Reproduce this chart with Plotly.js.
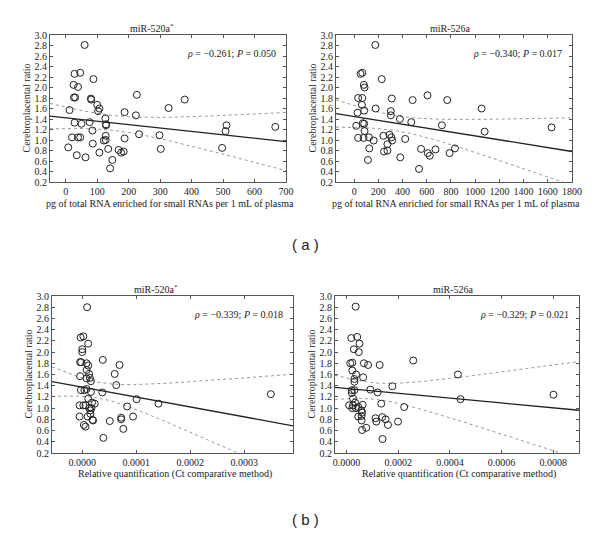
<!DOCTYPE html>
<html>
<head>
<meta charset="utf-8">
<script src="https://cdn.plot.ly/plotly-3.0.1.min.js"></script>
<style>body{margin:0;background:#fff;} #chart{width:600px;height:533px;}</style>
</head>
<body>
<div id="chart"></div>
<script>
// ---- Data ----
// Panel (a) left: miR-520a*, pg total RNA per 1 mL plasma
const a1_x = [60,28,46,25,39,88,26,30,80,81,12,100,107,103,126,128,128,76,28,50,85,20,39,46,127,127,121,86,8,135,107,35,63,148,141,168,176,184,187,187,226,223,233,298,302,327,378,497,511,508,666];
const a1_y = [2.81,2.26,2.28,2.05,2.01,2.16,1.81,1.81,1.79,1.77,1.57,1.67,1.60,1.55,1.41,1.30,1.28,1.34,1.33,1.31,1.18,1.05,1.05,1.05,1.08,1.00,0.99,0.93,0.86,0.83,0.76,0.71,0.67,0.62,0.46,0.81,0.76,0.78,1.03,1.53,1.86,1.47,1.11,1.09,0.83,1.61,1.77,0.85,1.28,1.17,1.25];
// Panel (a) right: miR-526a
const a2_x = [175,53,67,80,86,228,33,67,64,311,483,606,769,28,83,178,303,303,378,472,725,1053,1078,1631,17,72,83,86,33,78,122,161,242,292,308,314,275,125,247,275,114,381,422,536,553,608,625,672,789,833];
const a2_y = [2.81,2.26,2.28,2.05,2.00,2.16,1.80,1.80,1.67,1.79,1.76,1.85,1.76,1.52,1.56,1.60,1.55,1.47,1.40,1.34,1.28,1.60,1.16,1.24,1.27,1.32,1.31,1.17,1.04,1.04,1.05,0.99,1.08,1.10,1.05,0.99,0.92,0.84,0.78,0.80,0.62,0.67,1.02,0.45,0.83,0.75,0.70,0.82,0.75,0.84];
// Panel (b) left: miR-520a*, relative quantification
const b1_x = [0.09e-4,-0.03e-4,0.02e-4,0.11e-4,0.00e-4,0.00e-4,-0.04e-4,-0.02e-4,0.08e-4,0.11e-4,0.38e-4,0.69e-4,0.08e-4,0.125e-4,0.60e-4,-0.04e-4,0.14e-4,0.16e-4,0.08e-4,0.63e-4,-0.025e-4,0.04e-4,0.08e-4,0.16e-4,0.37e-4,0.11e-4,1.006e-4,1.41e-4,-0.05e-4,0.02e-4,0.06e-4,0.23e-4,0.13e-4,0.17e-4,0.15e-4,0.83e-4,-0.05e-4,0.10e-4,0.15e-4,0.19e-4,0.20e-4,0.51e-4,0.72e-4,0.72e-4,0.94e-4,0.76e-4,0.03e-4,0.06e-4,0.39e-4,3.49e-4,0.18e-4];
const b1_y = [2.80,2.26,2.28,2.15,2.05,2.00,1.82,1.82,1.80,1.76,1.86,1.77,1.68,1.61,1.61,1.57,1.54,1.48,1.53,1.41,1.32,1.32,1.34,1.29,1.28,1.17,1.16,1.08,1.05,1.05,1.05,1.08,1.00,1.00,0.96,1.03,0.85,0.85,0.90,0.79,0.78,0.77,0.83,0.80,0.85,0.63,0.70,0.67,0.47,1.25,1.10];
// Panel (b) right: miR-526a, relative quantification
const b2_x = [0.35e-4,0.18e-4,0.41e-4,0.50e-4,0.28e-4,0.47e-4,0.14e-4,0.22e-4,0.67e-4,0.83e-4,1.28e-4,2.58e-4,0.22e-4,0.37e-4,0.64e-4,0.30e-4,0.30e-4,1.77e-4,0.92e-4,0.20e-4,0.30e-4,1.20e-4,0.20e-4,0.25e-4,1.34e-4,0.10e-4,0.25e-4,0.62e-4,2.23e-4,0.36e-4,0.57e-4,0.33e-4,0.60e-4,0.45e-4,0.58e-4,1.12e-4,1.38e-4,1.51e-4,1.15e-4,1.60e-4,1.99e-4,0.58e-4,0.76e-4,0.60e-4,1.39e-4,4.31e-4,4.41e-4,8.01e-4,0.45e-4,0.22e-4];
const b2_y = [2.81,2.25,2.27,2.15,2.05,2.00,1.80,1.81,1.80,1.77,1.77,1.85,1.67,1.60,1.55,1.52,1.47,1.39,1.33,1.32,1.32,1.28,1.27,1.17,1.08,1.05,1.05,1.06,1.02,1.00,0.96,1.10,0.92,0.85,0.86,0.82,0.84,0.80,0.76,0.70,0.76,0.78,0.65,0.61,0.45,1.60,1.16,1.24,1.02,1.00];

const titles = ["miR-520a<sup>*</sup>","miR-526a","miR-520a<sup>*</sup>","miR-526a"];
const statTexts = ["<i>ρ</i> = −0.261; <i>P</i> = 0.050","<i>ρ</i> = −0.340; <i>P</i> = 0.017","<i>ρ</i> = −0.339; <i>P</i> = 0.018","<i>ρ</i> = −0.329; <i>P</i> = 0.021"];
const xTitles = ["pg of total RNA enriched for small RNAs per 1 mL of plasma","pg of total RNA enriched for small RNAs per 1 mL of plasma","Relative quantification (Ct comparative method)","Relative quantification (Ct comparative method)"];
const yTitle = "Cerebroplacental ratio";
const panelLabels = ["( a )","( b )"];

// ---- Layout geometry (pixels) ----
const W = 600, H = 533;
const boxes = [
  {l:50, r:286, t:35, b:182, xr:[-50,700], dt:100, fmt:"d"},
  {l:336, r:572, t:35, b:182, xr:[-150,1800], dt:200, fmt:"d"},
  {l:52, r:293, t:296, b:453, xr:[-0.000056,0.00039], dt:0.0001, fmt:".4f"},
  {l:335, r:579, t:296, b:453, xr:[-0.000045,0.0009], dt:0.0002, fmt:".4f"}
];
const px = v => v / W, py = v => 1 - v / H;
const serif = '"Liberation Serif", "Times New Roman", Times, serif';
const sans = '"Liberation Sans", Arial, sans-serif';

function fit(xs, ys, xr) {
  const n = xs.length;
  const mx = xs.reduce((a,b)=>a+b,0)/n, my = ys.reduce((a,b)=>a+b,0)/n;
  let sxx=0, sxy=0;
  for (let i=0;i<n;i++){ sxx+=(xs[i]-mx)**2; sxy+=(xs[i]-mx)*(ys[i]-my); }
  const b = sxy/sxx, a = my - b*mx;
  let sse=0; for (let i=0;i<n;i++){ sse += (ys[i]-a-b*xs[i])**2; }
  const s = Math.sqrt(sse/(n-2)), t = 2.01;
  const gx=[], fy=[], lo=[], hi=[];
  for (let k=0;k<=120;k++){
    const x = xr[0] + (xr[1]-xr[0])*k/120;
    const yh = a + b*x;
    const se = s*Math.sqrt(1/n + (x-mx)**2/sxx);
    gx.push(x); fy.push(yh); lo.push(yh - t*se); hi.push(yh + t*se);
  }
  return {gx, fy, lo, hi};
}

const datasets = [[a1_x,a1_y],[a2_x,a2_y],[b1_x,b1_y],[b2_x,b2_y]];
const traces = [];
const layout = {
  width: W, height: H, margin:{l:0,r:0,t:0,b:0},
  paper_bgcolor:"#fff", plot_bgcolor:"#fff", showlegend:false,
  font:{family:serif, size:10, color:"#222"},
  annotations: []
};

datasets.forEach((d, i) => {
  const k = i===0 ? "" : String(i+1);
  const xa = "x"+k, ya = "y"+k;
  const bx = boxes[i];
  const f = fit(d[0], d[1], bx.xr);
  traces.push({x:f.gx, y:f.hi, xaxis:xa, yaxis:ya, mode:"lines", line:{color:"#999", width:1, dash:"dot"}, hoverinfo:"skip"});
  traces.push({x:f.gx, y:f.lo, xaxis:xa, yaxis:ya, mode:"lines", line:{color:"#999", width:1, dash:"dot"}, hoverinfo:"skip"});
  traces.push({x:f.gx, y:f.fy, xaxis:xa, yaxis:ya, mode:"lines", line:{color:"#222", width:1.3}, hoverinfo:"skip"});
  traces.push({x:d[0], y:d[1], xaxis:xa, yaxis:ya, mode:"markers", cliponaxis:false,
    marker:{symbol:"circle-open", size:7, color:"#222", line:{width:1, color:"#222"}}});
  const axCommon = {showline:true, linecolor:"#555", linewidth:1, mirror:"ticks", ticks:"inside", ticklen:3, tickcolor:"#555",
    showgrid:false, zeroline:false, tickfont:{family:serif, size:10, color:"#222"}};
  layout["xaxis"+k] = Object.assign({}, axCommon, {domain:[px(bx.l), px(bx.r)], range:bx.xr, dtick:bx.dt, tick0:0, tickformat:bx.fmt, anchor:ya});
  layout["yaxis"+k] = Object.assign({}, axCommon, {domain:[py(bx.b), py(bx.t)], range:[0.2,3.0], dtick:0.2, tick0:0.2, tickformat:".1f", anchor:xa});
  const cx = (bx.l + bx.r)/2;
  layout.annotations.push({xref:"paper", yref:"paper", x:px(i%2===0 ? cx-16 : cx-4), y:py(bx.t-7), text:titles[i], showarrow:false, xanchor:"center", yanchor:"middle", font:{family:serif, size:10, color:"#222"}});
  layout.annotations.push({xref:"paper", yref:"paper", x:px(bx.r-8), y:py(bx.t+18), text:statTexts[i], showarrow:false, xanchor:"right", yanchor:"middle", font:{family:serif, size:10, color:"#222"}});
  layout.annotations.push({xref:"paper", yref:"paper", x:px(cx+2), y:py(bx.b+21), text:xTitles[i], showarrow:false, xanchor:"center", yanchor:"middle", font:{family:serif, size:10, color:"#222"}});
  layout.annotations.push({xref:"paper", yref:"paper", x:px(bx.l-24), y:py((bx.t+bx.b)/2), text:yTitle, textangle:-90, showarrow:false, xanchor:"center", yanchor:"middle", font:{family:serif, size:10, color:"#222"}});
});
layout.annotations.push({xref:"paper", yref:"paper", x:px(305), y:py(245), text:panelLabels[0], showarrow:false, xanchor:"center", yanchor:"middle", font:{family:sans, size:15, color:"#222"}});
layout.annotations.push({xref:"paper", yref:"paper", x:px(305), y:py(519), text:panelLabels[1], showarrow:false, xanchor:"center", yanchor:"middle", font:{family:sans, size:15, color:"#222"}});

Plotly.newPlot("chart", traces, layout, {staticPlot:true, displayModeBar:false});
</script>
</body>
</html>
